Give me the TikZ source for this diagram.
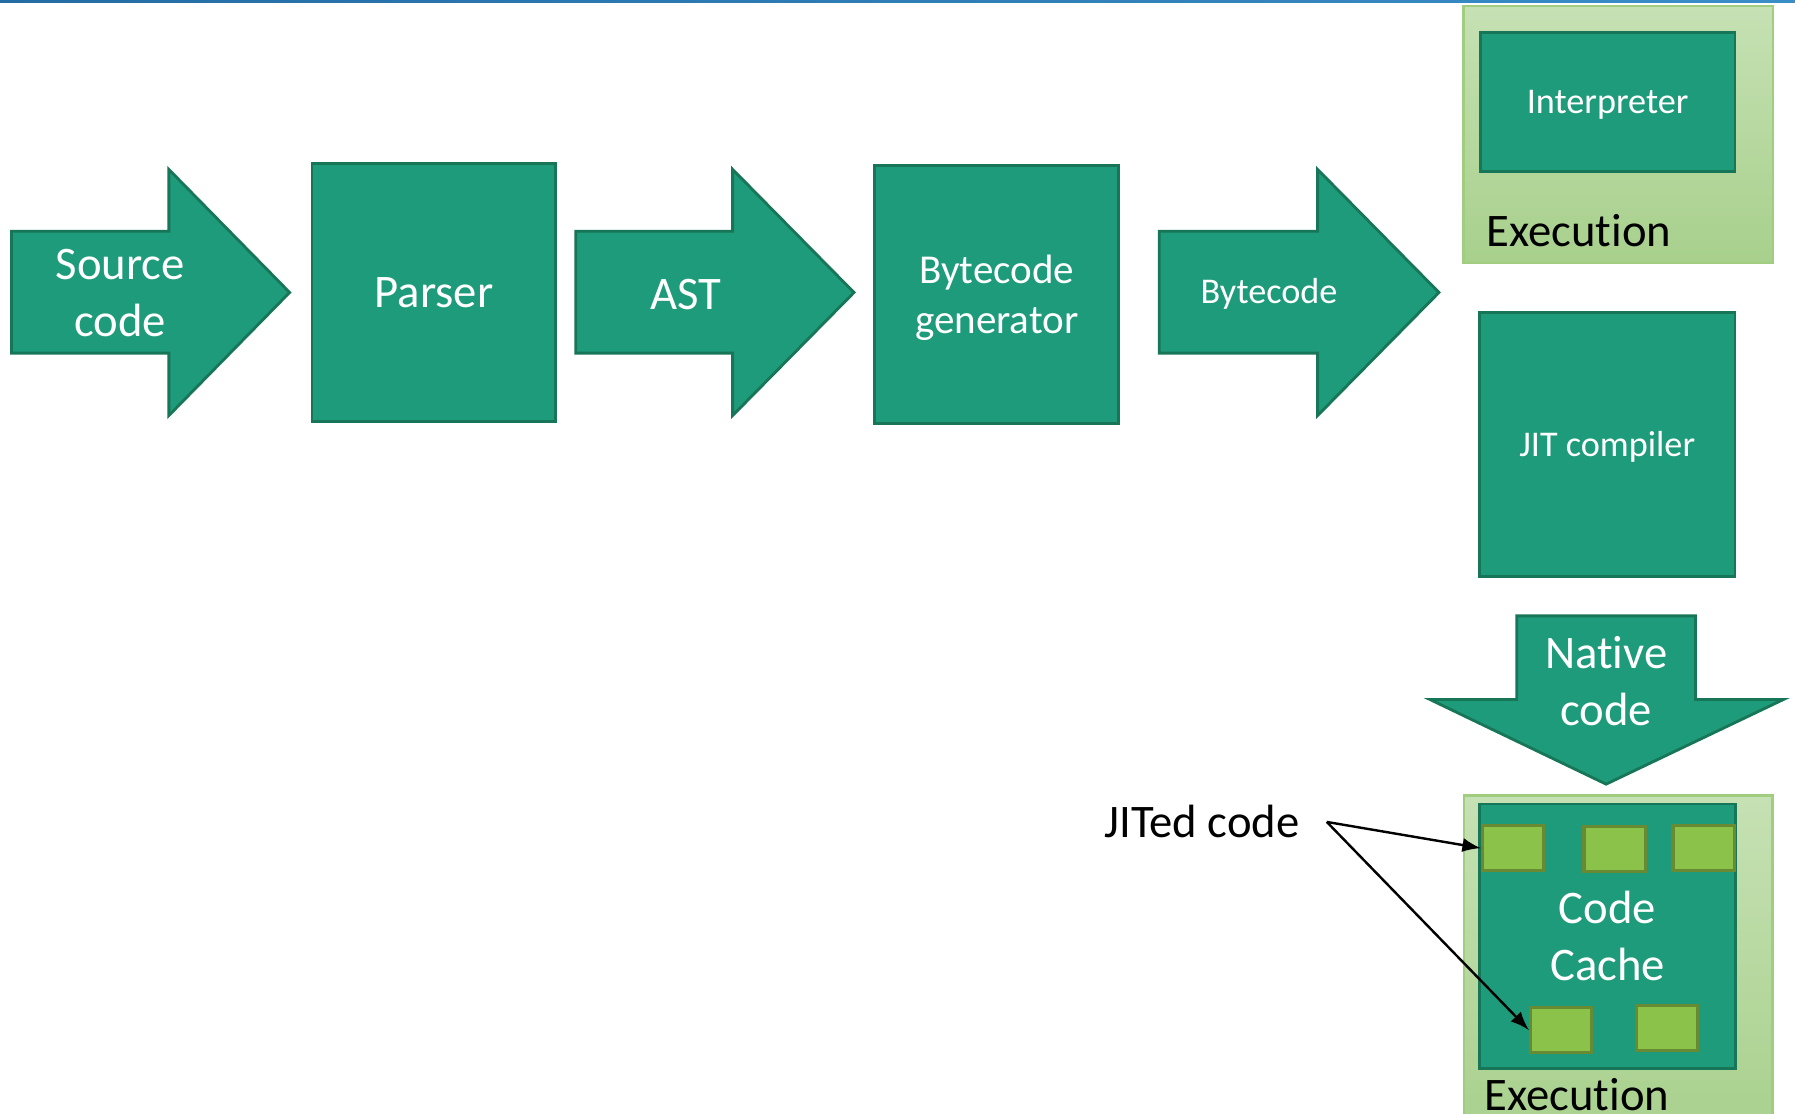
\documentclass[tikz,border=0pt]{standalone}
\usepackage{fontspec}
\setmainfont{Carlito}[Ligatures=NoCommon]
\usepackage{tikz}

\definecolor{jitgreen}{RGB}{30,155,122}
\definecolor{jitedge}{RGB}{24,118,88}
\definecolor{exectop}{RGB}{198,225,180}
\definecolor{execbot}{RGB}{168,208,140}
\definecolor{execedge}{RGB}{160,205,128}
\definecolor{chunk}{RGB}{139,195,74}
\definecolor{chunkedge}{RGB}{104,138,50}
\definecolor{barleft}{RGB}{36,108,164}
\definecolor{barright}{RGB}{58,142,200}

\tikzset{
  stage/.style={draw=jitedge, fill=jitgreen, line width=0.7pt, inner sep=0pt, text=white, align=center, text depth=0pt},
  blockarrow/.style={fill=jitgreen, draw=jitedge, line width=0.7pt},
  execbox/.style={top color=exectop, bottom color=execbot, draw=execedge, line width=0.6pt, inner sep=0pt},
  chunkbox/.style={draw=chunkedge, fill=chunk, line width=0.8pt, minimum width=5.35mm, minimum height=3.95mm, inner sep=0pt},
  big/.style={font=\fontsize{11.6}{14.2}\selectfont},
  mid/.style={font=\fontsize{10.2}{12.5}\selectfont},
  small/.style={font=\fontsize{9}{11}\selectfont},
}

\begin{document}
\begin{tikzpicture}[x=0.1mm, y=-0.1mm]

   \useasboundingbox (0,0) rectangle (1568,973);
   \clip (0,0) rectangle (1568,973);

   \shade[left color=barleft, right color=barright] (0,0) rectangle (1568,1.8);

   % pipeline
   \filldraw[blockarrow] (10,202) -- (147.5,202) -- (147.5,148) -- (253,255.5) -- (147.5,363) -- (147.5,308.5) -- (10,308.5) -- cycle;
   \node[big, text=white, align=center] (source) at (105,256) {Source\\code};

   \node[stage, big, minimum width=21.3mm, minimum height=22.6mm] (parser) at (379,255.5) {Parser};

   \filldraw[blockarrow] (503,202) -- (640,202) -- (640,148) -- (746,255.5) -- (640,363) -- (640,308.5) -- (503,308.5) -- cycle;
   \node[big, text=white] (ast) at (599,257) {AST};

   \node[stage, mid, minimum width=21.3mm, minimum height=22.6mm] (bcgen) at (870.7,257.3) {Bytecode\\generator};

   \filldraw[blockarrow] (1012.6,202) -- (1151,202) -- (1151,148) -- (1257,255.5) -- (1151,363) -- (1151,308.5) -- (1012.6,308.5) -- cycle;
   \node[small, text=white] (bytecode) at (1108.5,257) {Bytecode};

   % execution, top
   \node[execbox, minimum width=27.05mm, minimum height=22.43mm] (exectop) at (1413.75,117.35) {};
   \node[stage, small, minimum width=22.26mm, minimum height=12.15mm] (interp) at (1404.3,89.3) {Interpreter};
   \node[big, anchor=base west, inner sep=0pt] (execlabeltop) at (1298,215.5) {Execution};

   \node[stage, small, minimum width=22.3mm, minimum height=23.1mm] (jit) at (1404,388.2) {JIT compiler};

   \filldraw[blockarrow] (1325,538) -- (1481,538) -- (1481,611) -- (1558,611) -- (1403,685) -- (1249,611) -- (1325,611) -- cycle;
   \node[big, text=white, align=center] (native) at (1403,595) {Native\\code};

   % execution, bottom
   \node[execbox, minimum width=26.95mm, minimum height=30.5mm] (execbot) at (1413.75,847.5) {};
   \node[stage, big, minimum width=22.3mm, minimum height=23.1mm] (cache) at (1404.2,817.8) {Code\\Cache};
   \node[big, anchor=base west, inner sep=0pt] (execlabelbot) at (1296,970) {Execution};

   \node[chunkbox] (chunka) at (1321.8,740.9) {};
   \node[chunkbox] (chunkb) at (1410.5,741.8) {};
   \node[chunkbox] (chunkc) at (1488.1,740.7) {};
   \node[chunkbox] (chunkd) at (1363.6,899.7) {};
   \node[chunkbox] (chunke) at (1456.2,897.9) {};

   \node[big, anchor=base west, inner sep=0pt] (jited) at (964,731.4) {JITed code};
   \coordinate (jitfrom) at (1159,718);
   \draw[-latex, line width=0.6pt] (jitfrom) -- (chunka.west);
   \draw[-latex, line width=0.6pt] (jitfrom) -- (chunkd.west);

\end{tikzpicture}
\end{document}
